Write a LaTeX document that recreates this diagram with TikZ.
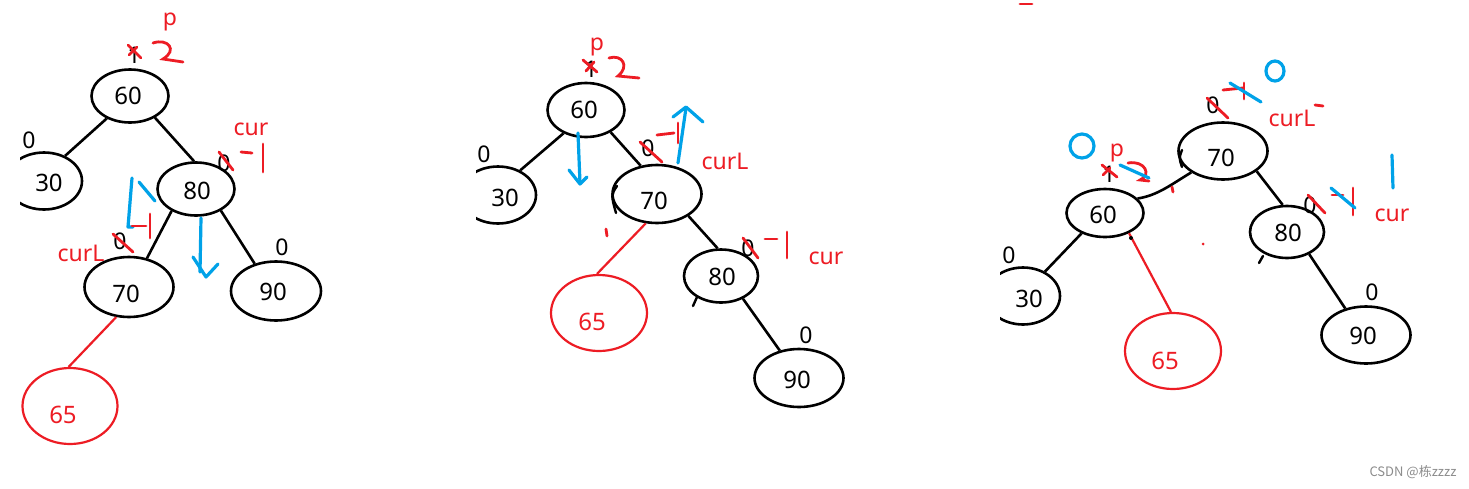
\documentclass[tikz,border=0pt]{standalone}
\usepackage{fontspec}
\setmainfont{Noto Sans}
\newfontfamily\cjk{Noto Sans CJK SC}
\usetikzlibrary{shapes.geometric}
\definecolor{pred}{RGB}{237,28,36}
\definecolor{pblue}{RGB}{0,162,232}
\definecolor{wmgray}{RGB}{140,140,140}
\begin{document}
\begin{tikzpicture}[x=0.5pt,y=-0.5pt,
  ell/.style={ellipse, draw=black, line width=1.3pt, inner sep=0pt},
  rell/.style={ellipse, draw=pred, line width=1.1pt, inner sep=0pt},
  numtxt/.style={font=\fontsize{12}{14}\selectfont, text=black, inner sep=0pt},
  rnumtxt/.style={font=\fontsize{12}{14}\selectfont, text=pred, inner sep=0pt},
  blab/.style={font=\fontsize{11.5}{13}\selectfont, text=black, inner sep=0pt},
  rlab/.style={font=\fontsize{11.5}{13}\selectfont, text=pred, inner sep=0pt},
  link/.style={draw=black, line width=1.3pt},
  rlink/.style={draw=pred, line width=1.1pt},
  rmark/.style={draw=pred, line width=1.4pt, line cap=round},
  bmark/.style={draw=pblue, line width=1.6pt, line cap=round, line join=round},
  kmark/.style={draw=black, line width=1.2pt, line cap=round},
  wmark/.style={font=\fontsize{6.5}{8}\selectfont, text=wmgray, inner sep=0pt},
]
\useasboundingbox (0,0) rectangle (1469,488);
\fill[white] (0,0) rectangle (1469,488);

% ---------------- Panel 1 ----------------
\node[ell, minimum width=38.5pt, minimum height=26.5pt, label={[numtxt,xshift=-1pt]center:60}] (a60) at (130,96) {};
\begin{scope}
\clip (20,0) rectangle (400,488);
\node[ell, minimum width=38pt, minimum height=28.5pt, label={[numtxt,xshift=2.5pt,yshift=-1pt]center:30}] (a30) at (44,181) {};
\end{scope}
\node[ell, minimum width=38.5pt, minimum height=26.5pt, label={[numtxt,xshift=0.5pt,yshift=-1pt]center:80}] (a80) at (196,189) {};
\node[ell, minimum width=44.5pt, minimum height=30pt, label={[numtxt,xshift=-1.5pt,yshift=-3.5pt]center:70}] (a70) at (129,287) {};
\node[ell, minimum width=45pt, minimum height=29.5pt, label={[numtxt,xshift=-1.5pt,yshift=-0.5pt]center:90}] (a90) at (276,291) {};
\node[rell, minimum width=47.5pt, minimum height=38pt, label={[rnumtxt,xshift=-3.5pt,yshift=-4.5pt]center:65}] (a65) at (70,406) {};

\draw[link] (a60.-136) -- (a30.50);
\draw[link] (a60.-41) -- (a80.94);
\draw[link] (a80.-138) -- (a70.58);
\draw[link] (a80.-41) -- (a90.128);
\draw[rlink] (a70.-113) -- (a65.92);

\node[rlab] at (170,22) {p};
\node[blab] at (134,55) {1};
\draw[rmark] (128,45) -- (141,58);
\draw[rmark] (129,55) -- (137,47);
\draw[rmark] (153,43) .. controls (168,38) and (178,50) .. (163,59) -- (183,62);
\node[blab] at (29,140) {0};
\node[rlab] at (251,129) {cur};
\node[blab] at (224,163) {0};
\draw[rmark] (219,152) -- (233,170);
\draw[rmark] (241,152) -- (252,153);
\draw[rmark] (263,144) -- (263,172);
\draw[bmark] (133,227) -- (128,227) -- (132,178);
\draw[bmark] (139,182) -- (155,201);
\draw[rmark] (132,226) -- (146,226);
\draw[rmark] (150,214) -- (150,238);
\node[blab] at (120,241) {0};
\draw[rmark] (113,234) -- (133,252);
\node[rlab] at (81,253) {curL};
\draw[bmark] (201,218) -- (200,272);
\draw[bmark] (193,257) -- (206,277) -- (218,264);
\node[blab] at (282,247) {0};

% ---------------- Panel 2 ----------------
\node[ell, minimum width=38.5pt, minimum height=27pt, label={[numtxt,xshift=-1pt]center:60}] (b60) at (586,110) {};
\begin{scope}
\clip (476,0) rectangle (900,488);
\node[ell, minimum width=38pt, minimum height=28.5pt, label={[numtxt,xshift=3.5pt,yshift=-1.5pt]center:30}] (b30) at (498,195) {};
\end{scope}
\node[ell, minimum width=44.5pt, minimum height=29pt, label={[numtxt,xshift=-1.5pt,yshift=-3.5pt]center:70}] (b70) at (657,194) {};
\node[ell, minimum width=37pt, minimum height=26.5pt, label={[numtxt,xshift=0.5pt,yshift=-0.5pt]center:80}] (b80) at (721,276) {};
\node[ell, minimum width=44.5pt, minimum height=29pt, label={[numtxt,xshift=-1pt,yshift=-1pt]center:90}] (b90) at (799,378) {};
\node[rell, minimum width=48pt, minimum height=38pt, label={[rnumtxt,xshift=-3.5pt,yshift=-4.5pt]center:65}] (b65) at (599,313) {};

\draw[link] (b60.-134) -- (b30.48);
\draw[link] (b60.-42) -- (b70.120);
\draw[link] (b70.-35) -- (b80.97);
\draw[link] (b80.-46) -- (b90.125);
\draw[rlink] (b70.-111) -- (b65.93);

\node[rlab] at (597,47) {p};
\node[blab] at (591,69) {1};
\draw[rmark] (583,60) -- (597,72);
\draw[rmark] (586,71) -- (594,62);
\draw[rmark] (609,58) .. controls (622,54) and (630,66) .. (618,76) -- (639,78);
\node[blab] at (484,154) {0};
\draw[bmark] (578,133) -- (580,183);
\draw[bmark] (569,170) -- (580,184) -- (587,177);
\node[blab] at (648,148) {0};
\draw[rmark] (640,142) -- (662,162);
\draw[rmark] (657,135) -- (674,133);
\draw[rmark] (678,123) -- (678,143);
\draw[bmark] (678,163) -- (686,108);
\draw[bmark] (673,117) -- (686,107) -- (703,122);
\node[rlab] at (725,161) {curL};
\draw[kmark] (617,186) .. controls (611,195) .. (616,213);
\draw[rmark] (606,229) -- (607,236);
\node[blab] at (748,248) {0};
\draw[rmark] (743,238) -- (758,258);
\draw[rmark] (765,239) -- (777,239);
\draw[rmark] (787,232) -- (787,258);
\node[rlab] at (826,258) {cur};
\draw[kmark] (693,306) -- (697,297);
\node[blab] at (806,335) {0};

% ---------------- Panel 3 ----------------
\node[ell, minimum width=44.5pt, minimum height=28.5pt, label={[numtxt,xshift=-1pt,yshift=-3.5pt]center:70}] (c70) at (1223,151) {};
\node[ell, minimum width=38.5pt, minimum height=24pt, label={[numtxt,xshift=-1pt,yshift=-1pt]center:60}] (c60) at (1105,213) {};
\node[ell, minimum width=37pt, minimum height=26pt, label={[numtxt,xshift=0.5pt,yshift=-0.5pt]center:80}] (c80) at (1287,232) {};
\begin{scope}
\clip (1000,0) rectangle (1469,488);
\node[ell, minimum width=37pt, minimum height=28.5pt, label={[numtxt,xshift=3pt,yshift=-1.5pt]center:30}] (c30) at (1023,296) {};
\end{scope}
\node[ell, minimum width=44.5pt, minimum height=28.5pt, label={[numtxt,xshift=-1.5pt,yshift=-0.5pt]center:90}] (c90) at (1366,335) {};
\node[rell, minimum width=48pt, minimum height=38pt, label={[rnumtxt,xshift=-4pt,yshift=-5pt]center:65}] (c65) at (1173,351) {};

\draw[link] (c70.-146) .. controls +(-20,12) and +(20,-3) .. (c60.24);
\draw[link] (c70.-31) -- (c80.99);
\draw[link] (c60.-139) -- (c30.48);
\draw[link] (c80.-45) -- (c90.128);
\draw[rlink] (c60.-40) -- (c65.93);

\draw[rmark] (1020,4) -- (1032,4);
\node[blab] at (1213,105) {0};
\draw[rmark] (1207,98) -- (1228,118);
\draw[rmark] (1223,90) -- (1243,88);
\draw[rmark] (1244,83) -- (1244,99);
\draw[bmark] (1230,83) -- (1261,102);
\draw[bmark] (1275,71) ellipse [x radius=9, y radius=10];
\node[rlab] at (1292,118) {curL};
\draw[rmark] (1315,105) -- (1323,106);
\draw[bmark] (1082,146) ellipse [x radius=12, y radius=12];
\node[rlab] at (1117,153) {p};
\node[blab] at (1109,174) {1};
\draw[rmark] (1102,165) -- (1117,177);
\draw[rmark] (1103,175) -- (1110,168);
\draw[rmark] (1128,163) .. controls (1145,160) and (1152,175) .. (1140,180) -- (1149,181);
\draw[bmark] (1120,165) -- (1149,178);
\draw[rmark] (1172,187) -- (1173,192);
\draw[kmark] (1182,150) .. controls (1179,158) .. (1182,167);
\node[blab] at (1310,205) {0};
\draw[rmark] (1308,195) -- (1325,213);
\draw[rmark] (1332,195) -- (1343,195);
\draw[rmark] (1353,188) -- (1353,215);
\draw[bmark] (1331,188) -- (1355,208);
\draw[bmark] (1392,155) -- (1393,188);
\node[rlab] at (1392,215) {cur};
\draw[kmark] (1259,263) -- (1263,256);
\fill[pred] (1203,244) circle (1.5);
\fill[black] (1131,238) circle (2);
\node[blab] at (1009,255) {0};
\node[blab] at (1372,292) {0};

\node[wmark] (wm) at (1413,472) {\cjk CSDN @栋zzzz};
\end{tikzpicture}
\end{document}
